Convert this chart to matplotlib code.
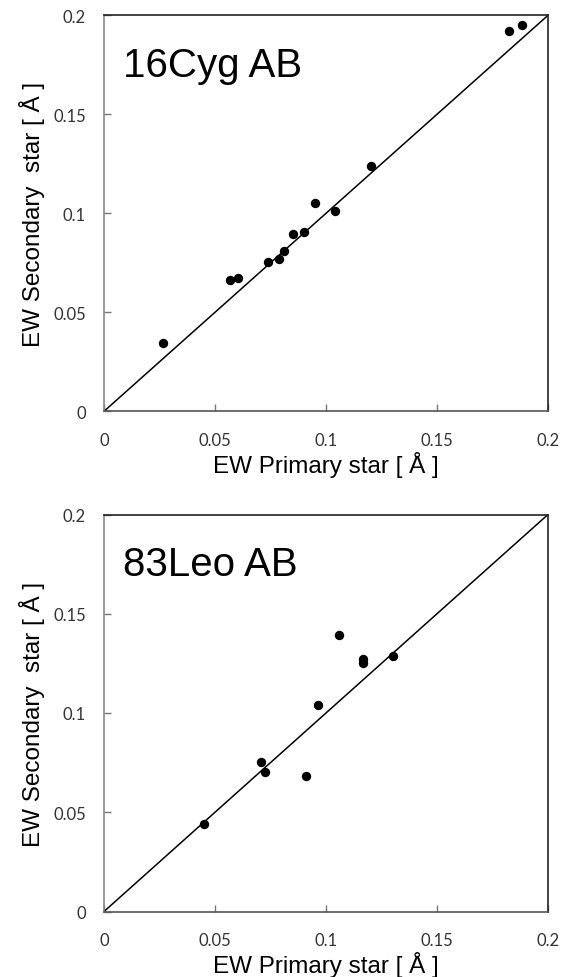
import matplotlib
matplotlib.use("Agg")
import matplotlib.pyplot as plt

# Equivalent widths
cyg_primary = [0.0267, 0.0568, 0.0602, 0.0740, 0.0787, 0.0812, 0.0850, 0.0903, 0.0952, 0.1042, 0.1201, 0.1826, 0.1883]
cyg_secondary = [0.0345, 0.0662, 0.0673, 0.0754, 0.0768, 0.0810, 0.0895, 0.0906, 0.1052, 0.1010, 0.1237, 0.1919, 0.1953]

leo_primary = [0.0449, 0.0707, 0.0724, 0.0910, 0.0965, 0.1057, 0.1168, 0.1168, 0.1303]
leo_secondary = [0.0442, 0.0755, 0.0703, 0.0684, 0.1042, 0.1393, 0.1272, 0.1250, 0.1286]

ticks = [0, 0.05, 0.1, 0.15, 0.2]
tick_labels = ["0", "0.05", "0.1", "0.15", "0.2"]

fig = plt.figure(figsize=(5.7, 9.78), dpi=100)
ax_top = fig.add_axes([104 / 570, 1 - 412.3 / 978, 444 / 570, 396 / 978])
ax_bot = fig.add_axes([104 / 570, 1 - 912.5 / 978, 444 / 570, 397 / 978])

panels = [
    (ax_top, cyg_primary, cyg_secondary, "16Cyg AB"),
    (ax_bot, leo_primary, leo_secondary, "83Leo AB"),
]

for ax, xs, ys, name in panels:
    # 1:1 line
    ax.plot([0, 0.2], [0, 0.2], color="black", linewidth=1.1)
    ax.scatter(xs, ys, s=33, color="black", zorder=3)

    ax.set_xlim(0, 0.2)
    ax.set_ylim(0, 0.2)
    ax.set_xticks(ticks)
    ax.set_yticks(ticks)
    ax.set_xticklabels(tick_labels, fontfamily="Lato", fontsize=12, color="#333333")
    ax.set_yticklabels(tick_labels, fontfamily="Lato", fontsize=12, color="#333333")
    ax.tick_params(axis="x", direction="in", length=5, width=1, color="#777777", pad=15)
    ax.tick_params(axis="y", direction="in", length=5, width=1, color="#777777", pad=13)

    ax.spines["left"].set_color("#888888")
    ax.spines["bottom"].set_color("#555555")
    ax.spines["top"].set_color("#222222")
    ax.spines["right"].set_color("#222222")
    for sp in ax.spines.values():
        sp.set_linewidth(1.2)

    ax.set_xlabel("EW Primary star [ Å ]", fontfamily="Liberation Sans", fontsize=17.5, va="baseline")
    ax.xaxis.set_label_coords(0.5, -0.153)
    ax.set_ylabel("EW Secondary  star [ Å ]", fontfamily="Liberation Sans", fontsize=17.5, va="baseline")
    ax.yaxis.set_label_coords(-0.144, 0.5)

    ax.text(0.043, 0.847, name, transform=ax.transAxes, fontfamily="Liberation Sans",
            fontsize=29, va="baseline", ha="left")

fig.savefig("out.png", dpi=100)
